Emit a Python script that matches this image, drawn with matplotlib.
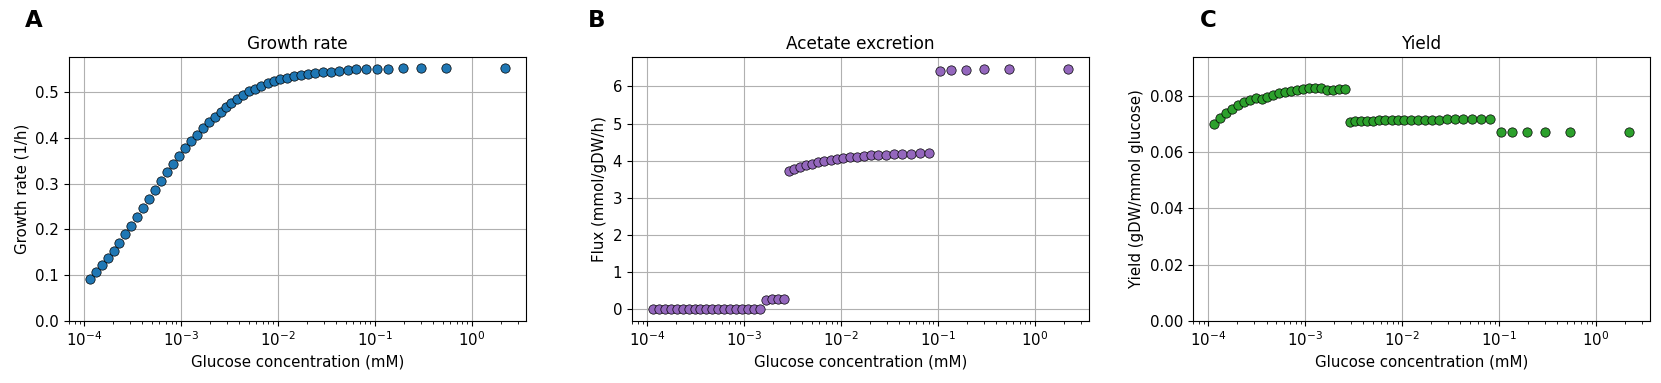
import matplotlib
matplotlib.use('Agg')
import matplotlib.pyplot as plt

# концентрация глюкозы (мМ)
glucose = [1.146e-4, 1.318e-4, 1.521e-4, 1.754e-4, 2.018e-4, 2.323e-4, 2.679e-4,
           3.090e-4, 3.556e-4, 4.093e-4, 4.721e-4, 5.445e-4, 6.266e-4, 7.211e-4,
           8.318e-4, 9.594e-4, 1.104e-3, 1.271e-3, 1.466e-3, 1.687e-3, 1.945e-3,
           2.239e-3, 2.582e-3, 2.917e-3, 3.289e-3, 3.767e-3, 4.345e-3, 5.012e-3,
           5.834e-3, 6.730e-3, 7.816e-3, 9.099e-3, 1.057e-2, 1.239e-2, 1.452e-2,
           1.714e-2, 2.042e-2, 2.432e-2, 2.924e-2, 3.532e-2, 4.276e-2, 5.260e-2,
           6.457e-2, 8.072e-2, 0.1050, 0.1374, 0.1932, 0.2965, 0.5420, 2.213]

growth = [0.0927, 0.1066, 0.1226, 0.1372, 0.1540, 0.1715, 0.1898, 0.2080, 0.2277,
          0.2474, 0.2672, 0.2869, 0.3066, 0.3248, 0.3431, 0.3606, 0.3774, 0.3927,
          0.4073, 0.4212, 0.4343, 0.4460, 0.4569, 0.4672, 0.4774, 0.4861, 0.4949,
          0.5022, 0.5080, 0.5146, 0.5197, 0.5248, 0.5292, 0.5321, 0.5350, 0.5380,
          0.5400, 0.5420, 0.5440, 0.5450, 0.5470, 0.5480, 0.5500, 0.5500, 0.5510,
          0.5520, 0.5526, 0.5533, 0.5533, 0.5540]

acetate = [0, 0, 0, 0, 0, 0, 0, 0, 0, 0, 0, 0, 0, 0, 0, 0, 0, 0, 0,
           0.25, 0.26, 0.26, 0.27,
           3.71, 3.77, 3.83, 3.87, 3.92, 3.95, 3.99, 4.03, 4.05, 4.07, 4.09,
           4.11, 4.13, 4.14, 4.15, 4.16, 4.17, 4.18, 4.19, 4.20, 4.21,
           6.43, 6.44, 6.45, 6.46, 6.46, 6.47]

yield_ = [0.0699, 0.0720, 0.0740, 0.0753, 0.0766, 0.0776, 0.0785, 0.0793, 0.0787,
          0.0795, 0.0802, 0.0808, 0.0813, 0.0817, 0.0820, 0.0824, 0.0826, 0.0827,
          0.0828, 0.0820, 0.0821, 0.0822, 0.0822,
          0.0708, 0.0709, 0.0710, 0.0711, 0.0711, 0.0712, 0.0712, 0.0713, 0.0713,
          0.0714, 0.0714, 0.0714, 0.0715, 0.0715, 0.0715, 0.0716, 0.0716, 0.0716,
          0.0717, 0.0717, 0.0717,
          0.0671, 0.0671, 0.0671, 0.0671, 0.0671, 0.0671]

panels = [
    ('A', 'Growth rate', 'Growth rate (1/h)', growth, 'tab:blue'),
    ('B', 'Acetate excretion', 'Flux (mmol/gDW/h)', acetate, 'tab:purple'),
    ('C', 'Yield', 'Yield (gDW/mmol glucose)', yield_, 'tab:green'),
]

fig = plt.figure(figsize=(16.61, 3.83), dpi=100)
lefts = [0.0415, 0.3805, 0.7183]
width = 0.2752
# положение букв панелей по x (в координатах осей)
letter_x = [-0.096, -0.096, 0.015]

for i, (letter, title, ylabel, vals, color) in enumerate(panels):
    ax = fig.add_axes([lefts[i], 0.162, width, 0.689])
    ax.scatter(glucose, vals, s=45, color=color, edgecolors='black',
               linewidths=0.5, zorder=3)
    ax.set_xscale('log')
    ax.grid(True, color='#b0b0b0', linewidth=0.8)
    ax.set_axisbelow(True)
    ax.tick_params(labelsize=10.8)
    ax.set_title(title, fontsize=12.2)
    ax.set_xlabel('Glucose concentration (mM)', fontsize=10.8)
    ax.set_ylabel(ylabel, fontsize=10.8)
    if letter == 'A':
        ax.set_ylim(bottom=0)
    elif letter == 'C':
        ax.set_ylim(0, 0.0937)
    ax.text(letter_x[i], 1.095, letter, transform=ax.transAxes, fontsize=16.5,
            fontweight='bold', va='bottom', ha='left')

fig.savefig('out.png', dpi=100)
